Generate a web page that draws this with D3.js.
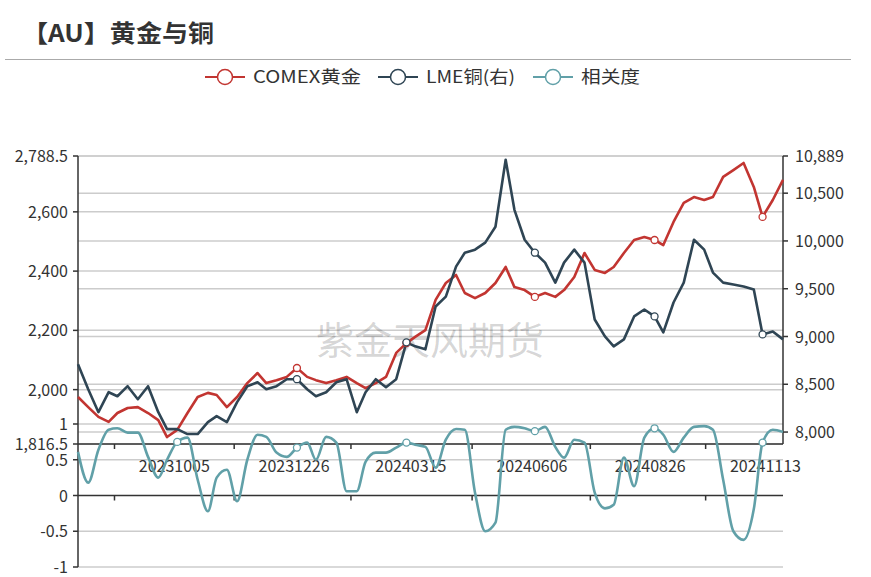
<!DOCTYPE html>
<html><head><meta charset="utf-8">
<script src="https://cdn.jsdelivr.net/npm/d3@7"></script>
<style>body{margin:0;background:#fff;font-family:"Noto Sans CJK SC","Noto Sans",sans-serif;}</style>
</head><body><svg id="c" width="871" height="577"></svg>
<script>
const dates = ["20230731","20230807","20230814","20230821","20230827","20230903","20230910","20230917","20230924","20230930",
"20231007","20231014","20231021","20231028","20231103","20231110","20231117","20231124","20231201","20231207",
"20231214","20231221","20231228","20240104","20240110","20240117","20240124","20240131","20240207","20240213",
"20240220","20240227","20240305","20240312","20240318","20240325","20240401","20240408","20240415","20240421",
"20240428","20240505","20240512","20240519","20240525","20240601","20240608","20240615","20240622","20240628",
"20240705","20240712","20240719","20240726","20240801","20240808","20240815","20240822","20240829","20240904",
"20240911","20240918","20240925","20241002","20241008","20241015","20241022","20241029","20241105","20241111",
"20241118","20241125"];
const gold = [1975,1941,1908,1891,1921,1938,1941,1921,1897,1840,1864,1921,1975,1989,1982,1941,1975,2022,2056,2022,
2032,2043,2073,2043,2032,2022,2032,2043,2022,2005,2022,2043,2124,2157,2178,2201,2303,2360,2387,2326,
2309,2326,2360,2414,2346,2336,2313,2326,2313,2336,2380,2461,2404,2394,2414,2461,2505,2515,2505,2488,
2566,2630,2650,2640,2650,2718,2741,2765,2684,2583,2640,2708];
const copper = [8709,8448,8208,8417,8375,8480,8344,8480,8208,8031,8031,7979,7979,8104,8167,8104,8313,8480,8521,8448,
8480,8553,8553,8448,8375,8417,8521,8553,8208,8417,8553,8469,8553,8939,8897,8866,9314,9418,9731,9877,
9909,9982,10148,10850,10326,10013,9877,9773,9564,9773,9909,9773,9178,9001,8897,8970,9210,9283,9210,9043,
9356,9564,10013,9909,9669,9564,9544,9523,9491,9022,9053,8970];
const corr = [0.61,0.18,0.64,0.92,0.94,0.88,0.88,0.54,0.25,0.5,0.75,0.81,0.22,-0.22,0.25,0.36,-0.08,0.5,0.85,0.82,
0.6,0.54,0.67,0.74,0.5,0.82,0.74,0.06,0.06,0.47,0.6,0.6,0.67,0.74,0.71,0.68,0.39,0.78,0.93,0.92,
0.04,-0.5,-0.38,0.92,0.96,0.94,0.9,0.96,0.68,0.53,0.78,0.74,0.04,-0.18,-0.13,0.53,0.13,0.81,0.94,0.85,
0.61,0.81,0.96,0.97,0.92,0.22,-0.5,-0.62,-0.19,0.74,0.92,0.89];
const tickLabels = ["20231005","20231226","20240315","20240606","20240826","20241113"];
const goldTicks = [2788.5,2600,2400,2200,2000,1816.5];
const copperTicks = [10889,10500,10000,9500,9000,8500,8000];
const corrTicks = [1,0.5,0,-0.5,-1];
const names = ["COMEX黄金","LME铜(右)","相关度"];
const colors = ["#c23531","#2f4554","#61a0a8"];

const p = d3.timeParse("%Y%m%d");
const svg = d3.select("#c");
const L=78,R=783,T=156,B=444;
const x = d3.scaleTime().domain([p("20230731"),p("20241125")]).range([L,R]);
const yG = d3.scaleLinear().domain([1816.5,2788.5]).range([B,T]);
const yC = d3.scaleLinear().domain([7875,10889]).range([B,T]);
const yR = d3.scaleLinear().domain([-1,1]).range([567,424]);
const fmt = d3.format(",");

svg.append("text").attr("x",22).attr("y",42).attr("font-size",24).attr("font-weight","bold").attr("fill","#333")
  .attr("textLength",192).attr("lengthAdjust","spacingAndGlyphs").text("【AU】黄金与铜");
svg.append("line").attr("x1",5).attr("x2",851).attr("y1",59.5).attr("y2",59.5).attr("stroke","#aaa");
const lx=[205,378,533], lw=[108,89,59];
names.forEach((n,i)=>{
  const g=svg.append("g");
  g.append("line").attr("x1",lx[i]).attr("x2",lx[i]+40).attr("y1",77).attr("y2",77).attr("stroke",colors[i]).attr("stroke-width",2);
  g.append("circle").attr("cx",lx[i]+20).attr("cy",77).attr("r",7.5).attr("fill","#fff").attr("stroke",colors[i]).attr("stroke-width",1.5);
  g.append("text").attr("x",lx[i]+48).attr("y",83).attr("font-size",17).attr("fill","#333")
    .attr("textLength",lw[i]).attr("lengthAdjust","spacingAndGlyphs").text(n);
});
const grid=(ys)=>ys.forEach(v=>svg.append("line").attr("x1",L).attr("x2",R).attr("y1",v).attr("y2",v).attr("stroke","#ccc").attr("stroke-width",1.5));
grid(goldTicks.map(yG)); grid(copperTicks.map(yC)); grid(corrTicks.filter(d=>d!==0).map(yR));
svg.append("text").attr("x",430).attr("y",354).attr("text-anchor","middle").attr("font-size",38).attr("fill","rgba(0,0,0,0.17)").text("紫金天风期货");
const lab=(xx,yy,t,a)=>svg.append("text").attr("x",xx).attr("y",yy+6).attr("text-anchor",a).attr("font-size",16).attr("fill","#333").text(t);
goldTicks.forEach(v=>lab(68,yG(v),fmt(v),"end"));
copperTicks.forEach(v=>lab(795,yC(v),fmt(v),"start"));
corrTicks.forEach(v=>lab(68,yR(v),String(v),"end"));
const axl=(x1,y1,x2,y2)=>svg.append("line").attr("x1",x1).attr("y1",y1).attr("x2",x2).attr("y2",y2).attr("stroke","#333").attr("stroke-width",1.5);
axl(L,T,L,567); axl(L,B,R,B); axl(R,T,R,B); axl(L,yR(0),R,yR(0));
[...goldTicks.map(yG),...corrTicks.map(yR)].forEach(v=>axl(L-5,v,L,v));
copperTicks.map(yC).forEach(v=>axl(R,v,R+5,v));
const lp=tickLabels.map(d=>x(p(d)));
const sp=lp[1]-lp[0];
lp.forEach(px=>{ axl(px-sp/2,B,px-sp/2,B+5); axl(px-sp/2,yR(0),px-sp/2,yR(0)+5); });
tickLabels.forEach((d,i)=>svg.append("text").attr("x",lp[i]).attr("y",472).attr("text-anchor","middle").attr("font-size",16).attr("fill","#333").text(d));
const pts=dates.map(p);
const series=[[gold,yG],[copper,yC],[corr,yR]];
series.forEach(([arr,ys],i)=>{
  svg.append("path").attr("d",d3.line().x((d,j)=>x(pts[j])).y(d=>ys(d)).curve(i===2?d3.curveMonotoneX:d3.curveLinear)(arr))
    .attr("fill","none").attr("stroke",colors[i]).attr("stroke-width",2.6).attr("stroke-linejoin","round");
});
series.forEach(([arr,ys],i)=>{
  tickLabels.forEach((t,k)=>{
    if(k===0 && i<2) return;
    const td=p(t); let bj=0;
    pts.forEach((d,j)=>{ if(Math.abs(d-td)<Math.abs(pts[bj]-td)) bj=j; });
    svg.append("circle").attr("cx",x(pts[bj])).attr("cy",ys(arr[bj])).attr("r",3.5).attr("fill","#fff").attr("stroke",colors[i]).attr("stroke-width",1.3);
  });
});
</script></body></html>
